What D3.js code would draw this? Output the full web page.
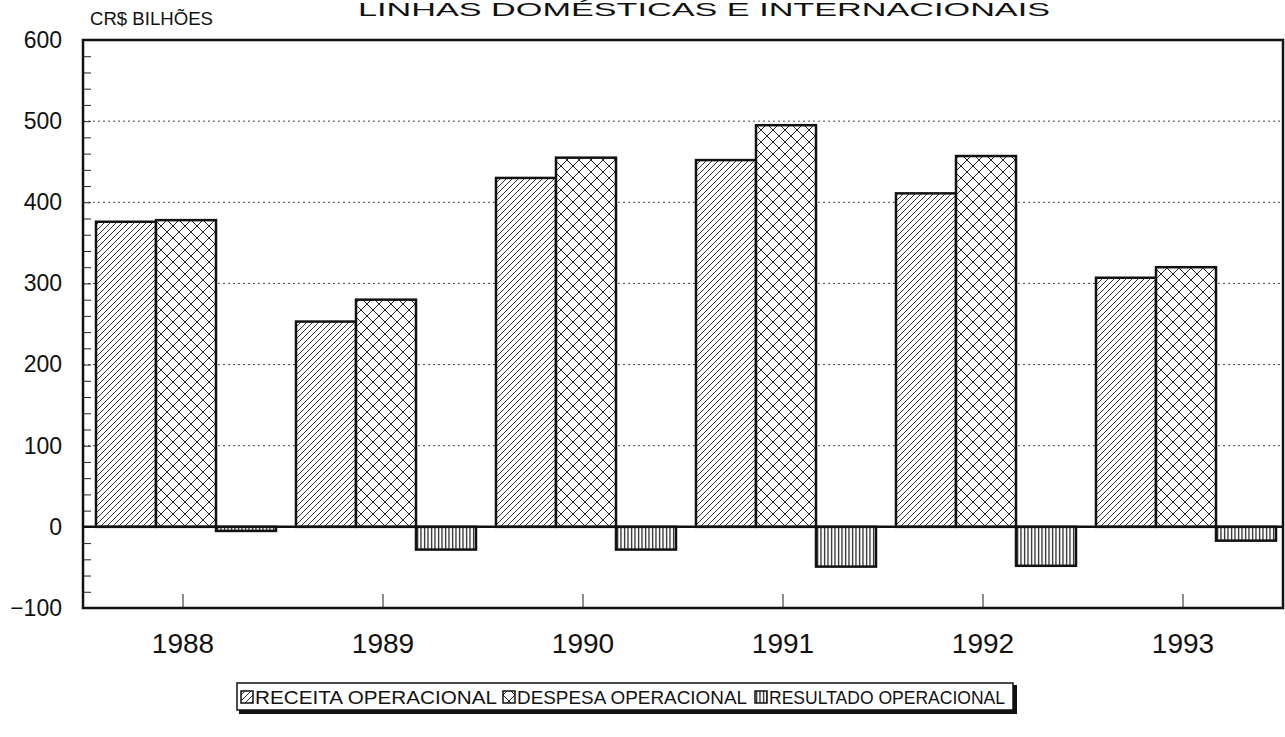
<!DOCTYPE html>
<html>
<head>
<meta charset="utf-8">
<script src="https://cdn.jsdelivr.net/npm/d3@7"></script>
<style>
  body { margin: 0; background: #fff; }
  text { font-family: "Liberation Sans", Arial, sans-serif; fill: #111; }
</style>
</head>
<body>
<div class="chart"></div>
<script>
// ============================================================================
// Data
// ============================================================================

var years = ['1988', '1989', '1990', '1991', '1992', '1993'];
var receita = [376, 253, 430, 452, 411, 307];
var despesa = [378, 280, 455, 495, 457, 320];
var resultado = [-5, -28, -28, -49, -48, -17];
var seriesNames = ['RECEITA OPERACIONAL', 'DESPESA OPERACIONAL', 'RESULTADO OPERACIONAL'];
var yTicks = [-100, 0, 100, 200, 300, 400, 500, 600];

// ============================================================================
// Create SVG
// ============================================================================

var svgWidth = 1285;
var svgHeight = 737;

var margin = { top: 40, right: 2, bottom: 129, left: 83 };
var width = svgWidth - margin.left - margin.right;
var height = svgHeight - margin.top - margin.bottom;

var svg = d3.select('.chart')
  .append('svg')
  .attr('width', svgWidth)
  .attr('height', svgHeight);

// hatch patterns
var defs = svg.append('defs');

defs.append('pattern')
  .attr('id', 'pat-receita')
  .attr('patternUnits', 'userSpaceOnUse')
  .attr('width', 6).attr('height', 6)
  .append('path')
  .attr('d', 'M0,6 L6,0 M-1,1 L1,-1 M5,7 L7,5')
  .attr('stroke', '#333').attr('stroke-width', 1);

defs.append('pattern')
  .attr('id', 'pat-despesa')
  .attr('patternUnits', 'userSpaceOnUse')
  .attr('width', 12).attr('height', 12)
  .append('path')
  .attr('d', 'M0,0 L12,12 M12,0 L0,12')
  .attr('stroke', '#222').attr('stroke-width', 1);

defs.append('pattern')
  .attr('id', 'pat-resultado')
  .attr('patternUnits', 'userSpaceOnUse')
  .attr('width', 3.5).attr('height', 4)
  .append('path')
  .attr('d', 'M1.5,0 V4')
  .attr('stroke', '#222').attr('stroke-width', 1.3);

var fills = ['url(#pat-receita)', 'url(#pat-despesa)', 'url(#pat-resultado)'];

var chartGroup = svg.append('g')
  .attr('transform', `translate(${margin.left}, ${margin.top})`);

// ============================================================================
// Scales
// ============================================================================

var x0 = d3.scaleBand()
  .domain(years)
  .range([0, width]);

var x1 = d3.scaleBand()
  .domain(seriesNames)
  .range([13, 193]);

var yScale = d3.scaleLinear()
  .domain([-100, 600])
  .range([height, 0]);

// ============================================================================
// Grid + axes
// ============================================================================

chartGroup.append('g')
  .selectAll('line')
  .data(yTicks.filter(d => d > 0 && d < 600))
  .enter()
  .append('line')
  .attr('x1', 0)
  .attr('x2', width)
  .attr('y1', d => yScale(d))
  .attr('y2', d => yScale(d))
  .attr('stroke', '#444')
  .attr('stroke-width', 1)
  .attr('stroke-dasharray', '2,3');

// minor ticks inside the left axis
chartGroup.append('g')
  .call(d3.axisLeft(yScale)
    .tickValues(d3.range(-100, 601, 20))
    .tickSize(-8)
    .tickFormat(''))
  .call(g => g.select('.domain').remove())
  .selectAll('line')
  .attr('stroke', '#222');

// y labels
chartGroup.append('g')
  .call(d3.axisLeft(yScale)
    .tickValues(yTicks)
    .tickSize(0)
    .tickPadding(21))
  .call(g => g.select('.domain').remove())
  .selectAll('text')
  .attr('font-size', 23)
  .attr('fill', '#111');

// x axis ticks + labels
chartGroup.append('g')
  .attr('transform', `translate(0, ${height})`)
  .call(d3.axisBottom(x0)
    .tickSize(-14)
    .tickPadding(25))
  .call(g => g.select('.domain').remove())
  .call(g => g.selectAll('line').attr('stroke', '#222'))
  .selectAll('text')
  .attr('font-size', 28)
  .attr('fill', '#111');

// ============================================================================
// Bars
// ============================================================================

var rows = years.map((yr, i) => ({
  year: yr,
  values: [receita[i], despesa[i], resultado[i]]
}));

var groups = chartGroup.selectAll('.year')
  .data(rows)
  .enter()
  .append('g')
  .attr('transform', d => `translate(${x0(d.year)}, 0)`);

groups.selectAll('g.bar')
  .data(d => d.values.map((v, k) => ({ name: seriesNames[k], value: v, k: k })))
  .enter()
  .append('g')
  .each(function(d) {
    var g = d3.select(this);
    var y = yScale(Math.max(0, d.value));
    var h = Math.abs(yScale(d.value) - yScale(0));
    g.append('rect')
      .attr('x', x1(d.name)).attr('y', y)
      .attr('width', x1.bandwidth()).attr('height', h)
      .attr('fill', '#fff');
    g.append('rect')
      .attr('x', x1(d.name)).attr('y', y)
      .attr('width', x1.bandwidth()).attr('height', h)
      .attr('fill', fills[d.k])
      .attr('stroke', '#111')
      .attr('stroke-width', 2.5);
  });

// zero line
chartGroup.append('line')
  .attr('x1', 0).attr('x2', width)
  .attr('y1', yScale(0)).attr('y2', yScale(0))
  .attr('stroke', '#111')
  .attr('stroke-width', 2.5);

// plot frame
chartGroup.append('rect')
  .attr('x', 0).attr('y', 0)
  .attr('width', width).attr('height', height)
  .attr('fill', 'none')
  .attr('stroke', '#111')
  .attr('stroke-width', 2.5);

// ============================================================================
// Titles
// ============================================================================

svg.append('text')
  .attr('x', 704)
  .attr('y', 16)
  .attr('text-anchor', 'middle')
  .attr('font-size', 19)
  .attr('textLength', 692)
  .attr('lengthAdjust', 'spacingAndGlyphs')
  .text('LINHAS  DOMÉSTICAS E INTERNACIONAIS');

svg.append('text')
  .attr('x', 90)
  .attr('y', 25)
  .attr('font-size', 18)
  .attr('textLength', 123)
  .attr('lengthAdjust', 'spacingAndGlyphs')
  .text('CR$ BILHÕES');

// ============================================================================
// Legend
// ============================================================================

var legend = svg.append('g')
  .attr('transform', 'translate(237, 683)');

legend.append('rect')
  .attr('x', 2).attr('y', 2)
  .attr('width', 778).attr('height', 29)
  .attr('fill', '#111');

legend.append('rect')
  .attr('x', 0).attr('y', 0)
  .attr('width', 776).attr('height', 27)
  .attr('fill', '#fff')
  .attr('stroke', '#111')
  .attr('stroke-width', 1.5);

// item starts and text widths along the legend box
var legendX = [4, 266, 518];
var legendW = [242, 230, 236];

seriesNames.forEach(function(name, k) {
  var item = legend.append('g')
    .attr('transform', `translate(${legendX[k]}, 0)`);
  item.append('rect')
    .attr('x', 0).attr('y', 8)
    .attr('width', 12).attr('height', 12)
    .attr('fill', '#fff');
  item.append('rect')
    .attr('x', 0).attr('y', 8)
    .attr('width', 12).attr('height', 12)
    .attr('fill', fills[k])
    .attr('stroke', '#111')
    .attr('stroke-width', 1.5);
  item.append('text')
    .attr('x', 14)
    .attr('y', 21)
    .attr('font-size', 19)
    .attr('textLength', legendW[k])
    .attr('lengthAdjust', 'spacingAndGlyphs')
    .text(name);
});
</script>
</body>
</html>
